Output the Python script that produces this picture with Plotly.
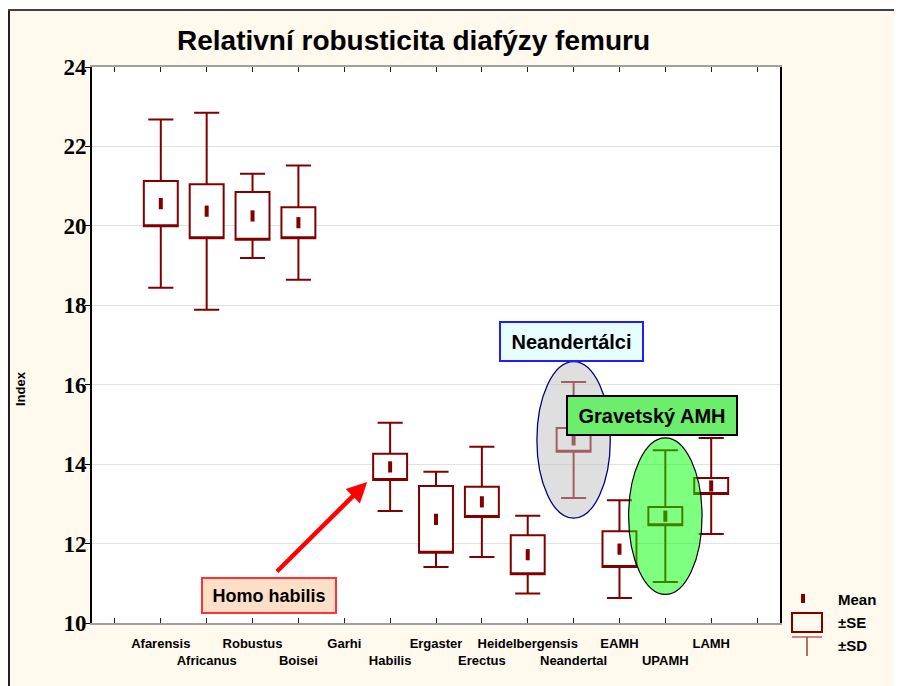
import plotly.graph_objects as go

# ---------------- data ----------------
categories = ["", "Afarensis", "Africanus", "Robustus", "Boisei", "Garhi", "Habilis",
              "Ergaster", "Erectus", "Heidelbergensis", "Neandertal", "EAMH", "UPAMH", "LAMH", ""]
means = [None, 20.56, 20.37, 20.25, 20.08, None, 13.93, 12.61, 13.05, 11.72, 14.61, 11.86, 12.69, 13.45, None]
se    = [None, 0.57, 0.68, 0.60, 0.39, None, 0.33, 0.84, 0.38, 0.49, 0.30, 0.45, 0.23, 0.20, None]
sd    = [None, 2.12, 2.48, 1.06, 1.44, None, 1.11, 1.20, 1.39, 0.98, 1.46, 1.23, 1.66, 1.21, None]
y_ticks = [10, 12, 14, 16, 18, 20, 22, 24]
title_text = "Relativní robusticita diafýzy femuru"
y_title = "Index"
legend_labels = ["Mean", "±SE", "±SD"]

# ---------------- styles ----------------
OFF = 8                      # page body margin
W, H = 902 - OFF, 686 - OFF
L, T = 92 - OFF, 67 - OFF
R, B = W - (780 - OFF), H - (623 - OFF)
PW, PH = W - L - R, H - T - B
DARK = "#800000"
CREAM = "#FFF9EE"
SANS = "Liberation Sans, Arial, sans-serif"

def px(sx):
    return (sx - OFF - L) / PW

def py(sy):
    return (H - B - (sy - OFF)) / PH

idx = [i for i, m in enumerate(means) if m is not None]
xs = idx
mu = [means[i] for i in idx]
s_e = [se[i] for i in idx]
s_d = [sd[i] for i in idx]

fig = go.Figure()

fig.add_trace(go.Box(
    x=xs,
    q1=[m - e for m, e in zip(mu, s_e)],
    median=[m - e for m, e in zip(mu, s_e)],
    q3=[m + e for m, e in zip(mu, s_e)],
    lowerfence=[m - d for m, d in zip(mu, s_d)],
    upperfence=[m + d for m, d in zip(mu, s_d)],
    width=0.74, whiskerwidth=0.74,
    fillcolor="white",
    line=dict(color=DARK, width=2),
    boxpoints=False, hoverinfo="skip", showlegend=False,
))

fig.add_trace(go.Scatter(
    x=xs, y=mu, mode="markers",
    marker=dict(symbol="line-ns-open", size=8, color=DARK, line=dict(width=4, color=DARK)),
    hoverinfo="skip", showlegend=False,
))

ticktext = []
for i, c in enumerate(categories):
    ticktext.append(c if i % 2 == 1 else ("<br>" + c if c else ""))

fig.update_xaxes(
    range=[-0.5, len(categories) - 0.5],
    tickmode="array", tickvals=list(range(len(categories))), ticktext=ticktext,
    tickangle=0, automargin=False,
    ticks="inside", ticklen=5, tickcolor="#202020", tickwidth=1,
    showline=True, linecolor="#A0A0A0", linewidth=1.5, mirror="ticks",
    showgrid=False, zeroline=False,
    tickfont=dict(family=SANS, size=13, color="black", weight="bold"),
    ticklabelstandoff=8,
)
fig.update_yaxes(
    range=[10, 24], tickmode="array", tickvals=y_ticks, automargin=False,
    ticks="outside", ticklen=5, tickcolor="black",
    showline=True, linecolor="black", linewidth=2, mirror=True,
    showgrid=True, gridcolor="#E2E2E2", gridwidth=1, zeroline=False,
    tickfont=dict(family="Liberation Serif, serif", size=23, color="black", weight="bold"),
    ticklabelstandoff=-6,
)

shapes = []
# outer frame
shapes.append(dict(type="rect", xref="paper", yref="paper", x0=px(0), x1=px(910), y0=py(10), y1=py(0),
                   fillcolor="white", line=dict(width=0), layer="below"))
shapes.append(dict(type="line", xref="paper", yref="paper", x0=px(9), x1=px(9), y0=py(700), y1=py(10),
                   line=dict(color="#202020", width=2)))
shapes.append(dict(type="line", xref="paper", yref="paper", x0=px(8), x1=px(910), y0=py(10), y1=py(10),
                   line=dict(color="#404040", width=2)))

# ellipses
def ellipse(i, half_w, half_h, fill, edge, ew):
    m = means[i]
    return [dict(type="circle", xref="x", yref="y", x0=i - half_w, x1=i + half_w,
                 y0=m - half_h, y1=m + half_h, fillcolor=fill, opacity=0.5,
                 line=dict(width=0), layer="above"),
            dict(type="circle", xref="x", yref="y", x0=i - half_w, x1=i + half_w,
                 y0=m - half_h, y1=m + half_h, fillcolor="rgba(0,0,0,0)",
                 line=dict(color=edge, width=ew), layer="above")]

nea = categories.index("Neandertal")
upa = categories.index("UPAMH")
hab = categories.index("Habilis")
shapes += ellipse(nea, 0.8, 1.97, "#C0C0C0", "#000080", 1.3)
shapes += ellipse(upa, 0.8, 1.97, "#00FF00", "#000000", 1.2)

# legend symbols
shapes.append(dict(type="rect", xref="paper", yref="paper", x0=px(801), x1=px(805), y0=py(603), y1=py(594),
                   fillcolor=DARK, line=dict(width=0)))
shapes.append(dict(type="rect", xref="paper", yref="paper", x0=px(792), x1=px(822), y0=py(632), y1=py(613),
                   fillcolor="rgba(0,0,0,0)", line=dict(color=DARK, width=2)))
shapes.append(dict(type="line", xref="paper", yref="paper", x0=px(792), x1=px(822), y0=py(637), y1=py(637),
                   line=dict(color="#B86060", width=1.5)))
shapes.append(dict(type="line", xref="paper", yref="paper", x0=px(807), x1=px(807), y0=py(656), y1=py(637),
                   line=dict(color="#A04040", width=1.5)))

annotations = []
annotations.append(dict(text=title_text, xref="paper", yref="paper", x=px(413), y=py(40),
                        showarrow=False, xanchor="center", yanchor="middle",
                        font=dict(family=SANS, size=28, color="black", weight="bold")))
annotations.append(dict(text=y_title, xref="paper", yref="paper", x=px(20), y=py(389),
                        showarrow=False, textangle=-90, xanchor="center", yanchor="middle",
                        font=dict(family=SANS, size=13, color="black", weight="bold")))
for lab, yy in zip(legend_labels, [599, 622, 645]):
    annotations.append(dict(text=lab, xref="paper", yref="paper", x=px(836), y=py(yy),
                            showarrow=False, xanchor="left", yanchor="middle",
                            font=dict(family=SANS, size=15, color="black", weight="bold")))

# text boxes
annotations.append(dict(text="Neandertálci", xref="x", yref="y", x=nea - 0.05, y=means[nea] + 2.48,
                        showarrow=False, width=141, height=37, borderpad=0, borderwidth=2,
                        bgcolor="#E6FEFF", bordercolor="#1E1EFF",
                        font=dict(family=SANS, size=20, color="black", weight="bold")))
annotations.append(dict(text="Gravetský AMH", xref="x", yref="y", x=upa - 0.3, y=means[upa] + 2.54,
                        showarrow=False, width=168, height=37, borderpad=0, borderwidth=2,
                        bgcolor="#6CEE6C", bordercolor="#000000",
                        font=dict(family=SANS, size=20, color="black", weight="bold")))
annotations.append(dict(text="Homo habilis", xref="x", yref="y", x=hab - 2.64, y=means[hab] - 3.25,
                        showarrow=False, width=132, height=33, borderpad=0, borderwidth=2,
                        bgcolor="#FDDFC8", bordercolor="#FF3333",
                        font=dict(family=SANS, size=18, color="black", weight="bold")))
# arrow to Homo habilis
tip_x = hab - 0.5
tip_y = means[hab] - se[hab] - 0.05
annotations.append(dict(text="", x=tip_x, y=tip_y, xref="x", yref="y",
                        ax=tip_x - 2.0, ay=tip_y - 2.29, axref="x", ayref="y",
                        showarrow=True, arrowhead=2, arrowsize=0.9, arrowwidth=4.5,
                        arrowcolor="#FF0000"))

fig.update_layout(
    width=W, height=H,
    margin=dict(l=L, r=R, t=T, b=B, pad=0, autoexpand=False),
    paper_bgcolor=CREAM, plot_bgcolor="white",
    shapes=shapes, annotations=annotations,
    showlegend=False,
)

fig.write_html("out.html")
